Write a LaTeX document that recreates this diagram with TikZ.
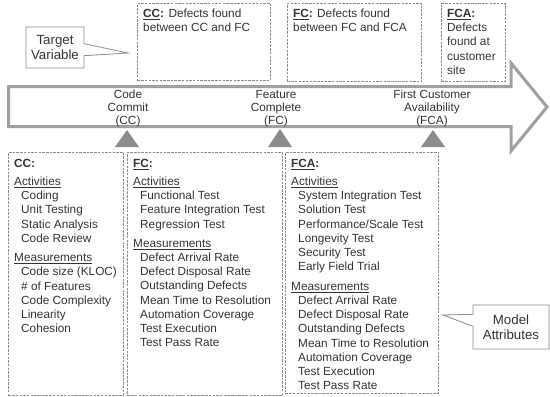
\documentclass[tikz,border=0pt]{standalone}
\usepackage{fontspec}
\setmainfont{Liberation Sans}
\usetikzlibrary{shapes.callouts}
\definecolor{txt}{HTML}{333333}
\definecolor{dashgray}{HTML}{8C8C8C}
\definecolor{arrowgray}{HTML}{A0A0A0}
\definecolor{trigray}{HTML}{8C8C8C}
\begin{document}
\begin{tikzpicture}[x=1pt,y=-1pt,
  dbox/.style={draw=dashgray, line width=0.8pt, dash pattern=on 2.5pt off 1.2pt, anchor=north west, inner sep=0pt},
  tx/.style={text=txt, font=\fontsize{11.8}{14.2}\selectfont, inner sep=0pt, anchor=north west, align=left},
  lbl/.style={text=txt, font=\fontsize{11.8}{12.8}\selectfont, inner sep=0pt, anchor=north, align=center},
  callbox/.style={rectangle callout, draw=dashgray, line width=0.8pt, fill=white, text=txt,
     font=\fontsize{13.3}{15.5}\selectfont, align=center, inner sep=0pt, callout pointer width=12pt},
  tri/.style={fill=trigray, draw=none}
]
\useasboundingbox (0,0) rectangle (550,397);

% main block arrow
\draw[arrowgray, line width=3pt, line join=miter]
  (8.5,86.5) -- (511,86.5) -- (511,63) -- (547,107) -- (511,151) -- (511,126.5) -- (8.5,126.5) -- cycle;

% milestone labels
\node[lbl] (lcc) at (128,88.2) {\rule{0pt}{10pt}Code\\Commit\\(CC)};
\node[lbl] (lfc) at (276,88.2) {\rule{0pt}{10pt}Feature\\Complete\\(FC)};
\node[lbl] (lfca) at (432,88.2) {\rule{0pt}{10pt}First Customer\\Availability\\(FCA)};

% triangles
\fill[tri] (115,147) -- (127,130) -- (139,147) -- cycle;
\fill[tri] (268,147) -- (280,129) -- (292,147) -- cycle;
\fill[tri] (421,147) -- (433,130) -- (445,147) -- cycle;

% top boxes
\node[dbox, minimum width=133pt, minimum height=77pt] (tcc) at (137,3) {};
\node[dbox, minimum width=134pt, minimum height=78pt] (tfc) at (287,3) {};
\node[dbox, minimum width=64pt, minimum height=78pt] (tfca) at (441,3) {};

\node[tx] (tcctxt) at (143,7.2) {\rule{0pt}{10pt}\textbf{\underline{CC}:} Defects found\\between CC and FC};
\node[tx] (tfctxt) at (293,7.2) {\rule{0pt}{10pt}\textbf{\underline{FC}:} Defects found\\between FC and FCA};
\node[tx] (tfcatxt) at (447,7.2) {\rule{0pt}{10pt}\textbf{\underline{FCA}:}\\Defects\\found at\\customer\\site};

% bottom boxes
\node[dbox, minimum width=115pt, minimum height=243pt] (bcc) at (8,152) {};
\node[dbox, minimum width=155pt, minimum height=243pt] (bfc) at (127,152) {};
\node[dbox, minimum width=153pt, minimum height=241pt] (bfca) at (285,152) {};

\node[tx] (bcctxt) at (14,157) {\rule{0pt}{10pt}\textbf{CC:}\\[4pt]
\underline{Activities}\\
\hspace*{7pt}Coding\\
\hspace*{7pt}Unit Testing\\
\hspace*{7pt}Static Analysis\\
\hspace*{7pt}Code Review\\[5.2pt]
\underline{Measurements}\\
\hspace*{7pt}Code size (KLOC)\\
\hspace*{7pt}\# of Features\\
\hspace*{7pt}Code Complexity\\
\hspace*{7pt}Linearity\\
\hspace*{7pt}Cohesion};

\node[tx] (bfctxt) at (133,157) {\rule{0pt}{10pt}\textbf{\underline{FC}:}\\[4pt]
\underline{Activities}\\
\hspace*{7pt}Functional Test\\
\hspace*{7pt}Feature Integration Test\\
\hspace*{7pt}Regression Test\\[5pt]
\underline{Measurements}\\
\hspace*{7pt}Defect Arrival Rate\\
\hspace*{7pt}Defect Disposal Rate\\
\hspace*{7pt}Outstanding Defects\\
\hspace*{7pt}Mean Time to Resolution\\
\hspace*{7pt}Automation Coverage\\
\hspace*{7pt}Test Execution\\
\hspace*{7pt}Test Pass Rate};

\node[tx] (bfcatxt) at (291,157) {\rule{0pt}{10pt}\textbf{\underline{FCA}:}\\[4pt]
\underline{Activities}\\
\hspace*{7pt}System Integration Test\\
\hspace*{7pt}Solution Test\\
\hspace*{7pt}Performance/Scale Test\\
\hspace*{7pt}Longevity Test\\
\hspace*{7pt}Security Test\\
\hspace*{7pt}Early Field Trial\\[5.5pt]
\underline{Measurements}\\
\hspace*{7pt}Defect Arrival Rate\\
\hspace*{7pt}Defect Disposal Rate\\
\hspace*{7pt}Outstanding Defects\\
\hspace*{7pt}Mean Time to Resolution\\
\hspace*{7pt}Automation Coverage\\
\hspace*{7pt}Test Execution\\
\hspace*{7pt}Test Pass Rate};

% callouts
\coordinate (tvtip) at (128,53);
\coordinate (matip) at (443,315);
\node[callbox, minimum width=58pt, minimum height=41pt, callout absolute pointer={(tvtip)}] (tv) at (55,47.5) {Target\\Variable};
\node[callbox, minimum width=76pt, minimum height=44pt, callout absolute pointer={(matip)}] (ma) at (511,327) {Model\\Attributes};
\end{tikzpicture}
\end{document}
